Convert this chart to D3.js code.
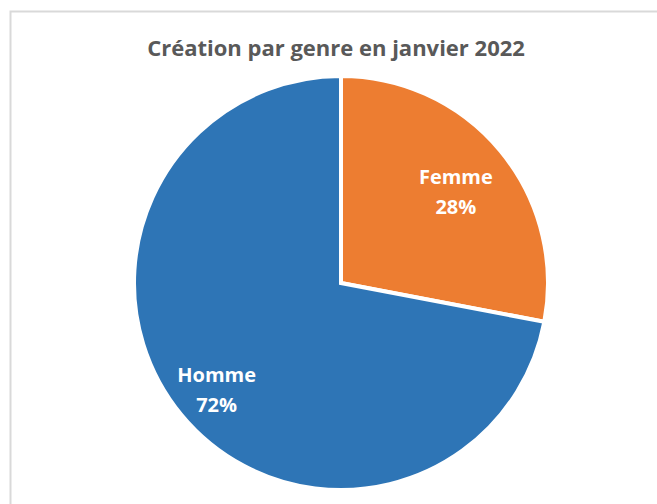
<!DOCTYPE html>
<html>
<head>
<meta charset="utf-8">
<script src="https://cdn.jsdelivr.net/npm/d3@7"></script>
<style>
  body { margin: 0; background: #fff; }
  text { font-family: "Open Sans", sans-serif; font-weight: bold; }
</style>
</head>
<body>
<script>
// data
var genres = ["Femme", "Homme"];
var parts = [28, 72];
var colors = ["#ed7d31", "#2e75b6"];

var width = 657, height = 504;
var cx = 341, cy = 283, radius = 207;
// how far out the label sits, as share of radius
var labelRadius = {Femme: 0.72, Homme: 0.78};

var svg = d3.select("body").append("svg")
    .attr("width", width)
    .attr("height", height);

// chart border
svg.append("rect")
    .attr("x", 10.5)
    .attr("y", 11.5)
    .attr("width", 700)
    .attr("height", 600)
    .style("fill", "none")
    .style("stroke", "#d9d9d9")
    .style("stroke-width", 2);

svg.append("text")
    .attr("x", 336)
    .attr("y", 56)
    .attr("text-anchor", "middle")
    .style("font-size", "22px")
    .style("fill", "#595959")
    .text("Création par genre en janvier 2022");

var data = genres.map(function(g, i) { return {genre: g, value: parts[i], color: colors[i]}; });

var pie = d3.pie()
    .sort(null)
    .value(d => d.value);

var arc = d3.arc()
    .innerRadius(0)
    .outerRadius(radius);

var g = svg.append("g")
    .attr("transform", "translate(" + cx + "," + cy + ")");

var slices = pie(data);

g.selectAll("path")
    .data(slices)
    .enter()
    .append("path")
        .attr("d", arc)
        .style("fill", d => d.data.color)
        .style("stroke", "#fff")
        .style("stroke-width", 4)
        .style("stroke-linejoin", "miter");

var labels = g.selectAll(".lbl")
    .data(slices)
    .enter()
    .append("text")
        .attr("class", "lbl")
        .attr("text-anchor", "middle")
        .attr("transform", function(d) {
            var r = radius * labelRadius[d.data.genre];
            var la = d3.arc().innerRadius(r).outerRadius(r);
            var c = la.centroid(d);
            return "translate(" + c[0] + "," + c[1] + ")";
        })
        .style("fill", "#fff")
        .style("font-size", "20px");

labels.append("tspan")
    .attr("x", 0)
    .attr("y", -4)
    .text(d => d.data.genre);

labels.append("tspan")
    .attr("x", 0)
    .attr("y", 26)
    .text(d => d.data.value + "%");
</script>
</body>
</html>
